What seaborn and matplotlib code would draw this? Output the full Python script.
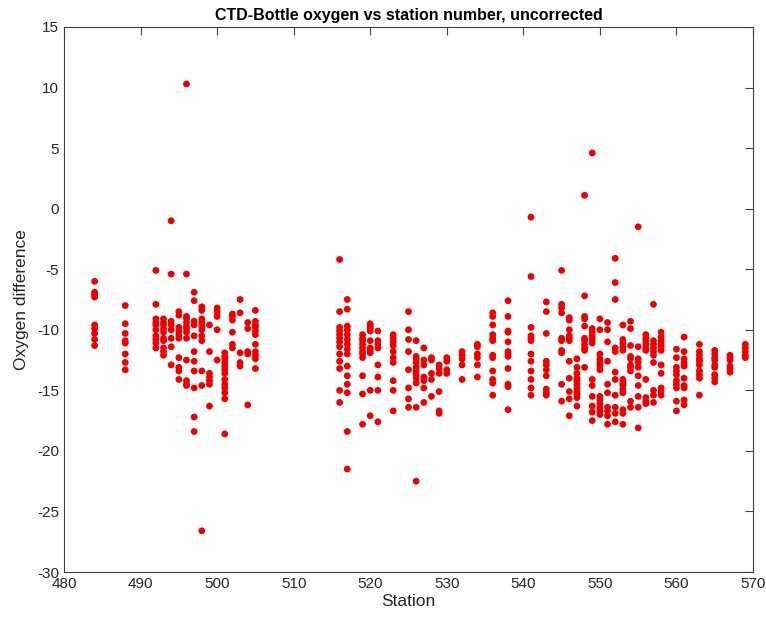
import numpy as np
import pandas as pd
import matplotlib
matplotlib.use("Agg")
import matplotlib.pyplot as plt
import seaborn as sns

# ---- data: stations and oxygen differences (CTD - bottle) ----
stn_west = [484, 488, 492, 493, 494, 495, 496, 497, 498, 499, 500, 501, 502, 503, 504, 505]
oxy_west = [
    [-6.0, -6.9, -7.1, -7.3, -9.6, -9.9, -10.3, -10.8, -11.3],
    [-8.0, -9.5, -10.3, -10.9, -11.1, -12.0, -12.7, -13.3],
    [-5.1, -7.9, -9.1, -9.4, -9.6, -10.0, -10.5, -10.8, -11.1, -11.5],
    [-9.1, -9.4, -9.6, -9.9, -10.2, -10.7, -10.9, -11.5, -11.8, -12.1],
    [-1.0, -5.4, -9.3, -9.6, -10.0, -10.7, -11.4, -12.9],
    [-8.5, -8.8, -9.8, -10.1, -10.4, -10.7, -12.3, -13.1, -13.4, -14.1],
    [10.3, -5.4, -8.9, -9.1, -9.4, -9.7, -9.9, -10.2, -10.7, -12.5, -14.2, -14.5, -14.6],
    [-6.9, -7.6, -9.3, -9.6, -10.5, -11.8, -12.6, -13.4, -14.8, -17.2, -18.4],
    [-8.1, -8.4, -9.1, -9.4, -9.7, -10.0, -10.5, -10.9, -13.4, -14.6, -26.6],
    [-9.6, -11.8, -13.6, -13.9, -14.2, -14.5, -16.3],
    [-8.2, -8.5, -8.9, -10.0, -12.5],
    [-11.9, -12.2, -12.4, -12.7, -13.0, -13.3, -13.6, -14.1, -14.5, -14.8, -15.2, -15.7, -18.6],
    [-8.7, -8.9, -9.2, -10.2, -11.2, -11.5],
    [-7.5, -8.6, -11.9, -12.7, -13.0],
    [-9.4, -9.9, -11.8, -12.0, -16.2],
    [-8.4, -9.3, -9.6, -9.8, -10.1, -10.4, -11.2, -11.8, -12.1, -12.4, -13.2],
]

stn_mid = [516, 517, 519, 520, 521, 523, 525, 526, 527, 528, 529, 530, 532, 534, 536, 538]
oxy_mid = [
    [-4.2, -8.5, -9.8, -10.1, -10.4, -10.7, -11.0, -11.4, -12.0, -12.6, -13.2, -15.0, -16.0],
    [-7.5, -8.3, -9.7, -10.0, -10.4, -10.8, -11.2, -11.6, -12.0, -13.0, -13.8, -14.5, -15.2, -18.4, -21.5],
    [-10.4, -10.7, -10.9, -11.2, -11.5, -11.8, -12.0, -12.3, -13.8, -15.3, -17.8],
    [-9.5, -9.7, -9.9, -10.1, -10.9, -11.5, -11.7, -11.9, -15.0, -17.1],
    [-10.1, -10.9, -11.2, -11.5, -12.9, -13.9, -15.0, -17.6],
    [-10.4, -10.7, -11.0, -11.3, -11.8, -12.3, -12.7, -14.2, -15.0, -16.7],
    [-8.5, -10.0, -10.8, -11.8, -13.3, -14.8, -15.7, -16.4],
    [-10.9, -12.2, -12.4, -12.7, -13.1, -13.4, -13.7, -14.0, -14.4, -16.4, -22.5],
    [-11.5, -12.5, -12.9, -13.9, -14.2, -14.8, -16.0],
    [-12.3, -12.5, -13.6, -14.1, -15.5],
    [-12.9, -13.2, -13.6, -15.1, -16.7, -16.9],
    [-12.3, -12.6, -13.3, -13.6],
    [-11.8, -12.1, -12.4, -12.9, -14.1],
    [-11.2, -11.4, -12.0, -12.3, -12.9, -13.9],
    [-8.6, -8.9, -9.6, -10.4, -10.7, -10.9, -12.1, -12.3, -13.4, -14.1, -14.4, -15.4],
    [-7.6, -8.9, -10.1, -10.2, -11.0, -11.8, -12.0, -12.2, -13.2, -14.5, -14.7, -16.6],
]

stn_east = [541, 543, 545, 546, 547, 548, 549, 550, 551, 552, 553, 554, 555, 556, 557, 558,
            560, 561, 563, 565, 567, 569]
oxy_east = [
    [-0.7, -5.6, -9.8, -10.5, -10.7, -10.9, -12.0, -12.6, -13.4, -14.1, -14.8, -15.4],
    [-7.7, -8.5, -10.3, -12.6, -12.9, -13.3, -13.8, -14.9, -15.2, -15.4],
    [-5.1, -7.9, -8.2, -8.6, -10.7, -10.9, -11.7, -11.9, -14.5, -15.9],
    [-9.0, -9.2, -10.0, -10.5, -10.7, -10.9, -12.6, -14.0, -15.1, -15.7, -17.1],
    [-12.4, -13.1, -13.6, -14.0, -14.2, -14.5, -14.8, -15.1, -15.3, -15.6, -16.3],
    [1.1, -7.2, -8.9, -9.1, -9.7, -10.7, -10.9, -11.2, -11.5, -11.7, -13.1],
    [4.6, -9.9, -10.2, -10.5, -10.8, -11.1, -14.1, -14.6, -15.5, -16.3, -16.8, -17.5],
    [-9.1, -10.0, -12.0, -12.4, -12.7, -13.0, -13.3, -15.5, -15.8, -16.1, -16.4, -16.7, -17.0],
    [-9.4, -10.0, -11.0, -12.6, -14.5, -15.2, -16.4, -16.7, -17.1, -17.8],
    [-4.1, -6.1, -7.5, -11.5, -11.8, -13.5, -14.1, -15.4, -16.4, -16.9, -17.6],
    [-9.6, -10.8, -11.1, -11.4, -11.7, -14.1, -14.4, -14.6, -14.9, -15.2, -16.6, -16.9, -17.8],
    [-9.3, -9.9, -11.3, -12.2, -12.4, -12.9, -13.1, -13.4, -15.9, -16.4],
    [-1.5, -11.4, -12.4, -12.7, -13.1, -13.8, -14.6, -15.5, -16.4, -18.1],
    [-10.4, -10.7, -10.9, -11.2, -11.5, -11.7, -14.1, -15.6, -15.9, -16.1],
    [-7.9, -10.9, -11.2, -11.5, -11.8, -12.1, -12.7, -15.0, -15.4, -16.0],
    [-10.2, -10.6, -10.9, -11.2, -11.4, -11.7, -12.9, -13.6, -14.8, -15.1, -15.4],
    [-11.6, -12.3, -13.1, -13.4, -13.7, -14.2, -14.5, -14.8, -15.9, -16.7],
    [-10.6, -11.8, -12.4, -12.7, -13.0, -14.0, -14.6, -14.8, -15.8, -16.2],
    [-11.2, -11.8, -12.1, -12.4, -12.6, -12.9, -13.4, -13.7, -14.0, -15.4],
    [-11.7, -12.0, -12.3, -12.5, -12.9, -13.1, -13.7, -14.0, -14.3],
    [-12.1, -12.3, -12.5, -13.0, -13.2, -13.5],
    [-11.2, -11.5, -11.8, -12.1, -12.3],
]

x_ticks = list(range(480, 571, 10))
y_ticks = list(range(-30, 16, 5))

# ---- build long table ----
rows = []
for stns, oxys in ((stn_west, oxy_west), (stn_mid, oxy_mid), (stn_east, oxy_east)):
    for s, vals in zip(stns, oxys):
        for v in vals:
            rows.append((s, v))
df = pd.DataFrame(rows, columns=["Station", "Oxygen difference"])

sns.set_style("white")
plt.rcParams['font.family'] = ['Liberation Sans', 'DejaVu Sans']
plt.rcParams['axes.unicode_minus'] = False

fig = plt.figure(figsize=(7.66, 6.19), dpi=100)
ax = fig.add_axes([64/766, 1-572/619, (753-64)/766, (572-27)/619])

sns.scatterplot(data=df, x="Station", y="Oxygen difference", ax=ax,
                color="#ee0000", s=24, edgecolor="none", linewidth=0, legend=False)

ax.set_xlim(480, 570)
ax.set_ylim(-30, 15)
ax.set_xticks(x_ticks)
ax.set_yticks(y_ticks)
ax.tick_params(axis="both", direction="in", length=6, width=0.8, top=True, right=True,
               labelsize=11, colors="#404040", labelcolor="#262626")
for sp in ax.spines.values():
    sp.set_visible(True)
    sp.set_color("#404040")
    sp.set_linewidth(0.8)

ax.set_xlabel("Station", fontsize=12.5, color="#262626", labelpad=2)
ax.set_ylabel("Oxygen difference", fontsize=12.5, color="#262626", labelpad=6)
ax.set_title("CTD-Bottle oxygen vs station number, uncorrected", fontsize=11.5,
             fontweight="bold", color="black", pad=5)

fig.savefig("out.png", dpi=100)
